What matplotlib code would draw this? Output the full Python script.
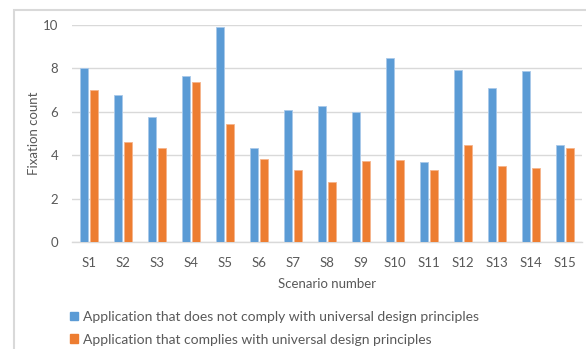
import matplotlib
matplotlib.use("Agg")
import matplotlib.pyplot as plt
import numpy as np
from matplotlib.patches import Rectangle, Patch

categories = ["S1","S2","S3","S4","S5","S6","S7","S8","S9","S10","S11","S12","S13","S14","S15"]
non_comply = [8.0, 6.77, 5.78, 7.63, 9.92, 4.35, 6.06, 6.28, 5.97, 8.46, 3.69, 7.91, 7.08, 7.88, 4.48]
comply = [7.0, 4.63, 4.32, 7.38, 5.46, 3.83, 3.31, 2.78, 3.75, 3.80, 3.31, 4.48, 3.51, 3.42, 4.32]
series_names = ["Application that does not comply with universal design principles",
                "Application that complies with universal design principles"]
yticks = [0, 2, 4, 6, 8, 10]

plt.rcParams['font.family'] = ['Lato', 'DejaVu Sans']
W, H = 586, 349
fig = plt.figure(figsize=(W/100, H/100), dpi=100)
ax = fig.add_axes([72/W, 1-242/H, (582-72)/W, (242-25)/H])

blue = "#5B9BD5"
orange = "#ED7D31"
txt = "#595959"
x = np.arange(len(categories))
bw = 0.25
ax.bar(x - bw/2 - 0.02, non_comply, bw, color=blue, edgecolor="#a9c9ea", linewidth=0.6, zorder=3)
ax.bar(x + bw/2 + 0.02, comply, bw, color=orange, edgecolor="#f5b48c", linewidth=0.6, zorder=3)

ax.set_xlim(-0.5, len(categories) - 0.5)
ax.set_ylim(0, 10)
ax.set_yticks(yticks)
ax.set_xticks(x)
ax.set_xticklabels(categories)
ax.tick_params(axis='both', length=0, colors=txt, labelsize=9.5)
ax.tick_params(axis='x', pad=11)
ax.tick_params(axis='y', pad=10)
ax.yaxis.grid(True, color="#d9d9d9", linewidth=1, zorder=0)
for s in ["top", "right", "left"]:
    ax.spines[s].set_visible(False)
ax.spines["bottom"].set_color("#d9d9d9")
ax.spines["bottom"].set_linewidth(1)
ax.set_xlabel("Scenario number", color=txt, fontsize=9.5, labelpad=6)
ax.set_ylabel("Fixation count", color=txt, fontsize=9.5, labelpad=2)

handles = [Patch(color=blue), Patch(color=orange)]
fig.legend(handles, series_names, loc="upper left", bbox_to_anchor=(66/W, 1-307/H),
           frameon=False, fontsize=10, handlelength=0.55, handleheight=0.55,
           handletextpad=0.4, labelspacing=0.75, labelcolor=txt, borderaxespad=0,
           borderpad=0.3)

fig.patches.append(Rectangle((14/W, -0.1), 1.2, 1 - 10/H + 0.1, transform=fig.transFigure,
                             fill=False, edgecolor="#d9d9d9", linewidth=1.5))
fig.savefig("out.png", dpi=100)
